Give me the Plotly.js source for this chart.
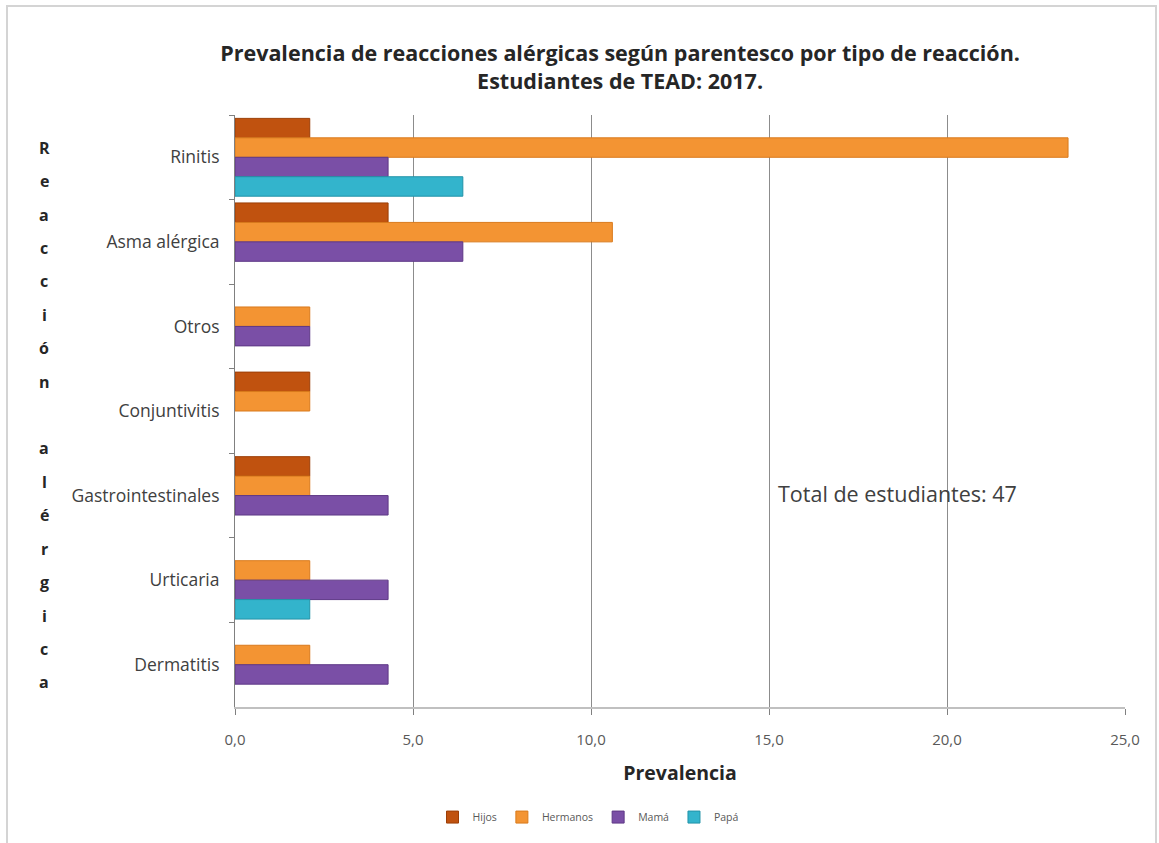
<!DOCTYPE html>
<html>
<head>
<meta charset="utf-8">
<script src="https://cdn.plot.ly/plotly-3.0.1.min.js"></script>
<style>
  html, body { margin: 0; padding: 0; background: #ffffff; }
  #chart { width: 1159px; height: 843px; position: relative; }
  #frame { position: absolute; left: 6px; top: 5px; width: 1151px; height: 850px;
           border: 2px solid #d4d4d4; pointer-events: none; box-sizing: border-box; }
</style>
</head>
<body>
<div id="chart"></div>
<div id="frame"></div>
<script>
// ---- data ----
const categories = ['Rinitis', 'Asma alérgica', 'Otros', 'Conjuntivitis', 'Gastrointestinales', 'Urticaria', 'Dermatitis'];
const seriesNames = ['Hijos', 'Hermanos', 'Mamá', 'Papá'];
const hijos    = [2.1, 4.3, null, 2.1, 2.1, null, null];
const hermanos = [23.4, 10.6, 2.1, 2.1, 2.1, 2.1, 2.1];
const mama     = [4.3, 6.4, 2.1, null, 4.3, 4.3, 4.3];
const papa     = [6.4, null, null, null, null, 2.1, null];
const xTicks   = [0, 5, 10, 15, 20, 25];
const titleLines = ['Prevalencia de reacciones alérgicas según parentesco por tipo de reacción.', 'Estudiantes de TEAD: 2017.'];
const yTitleText = 'Reacción alérgica';
const noteText = 'Total de estudiantes: 47';

// ---- styles ----
const colors = ['#c0520f', '#f39433', '#7a4fa6', '#33b4cc'];
const lines  = ['#9c3e06', '#d97a1c', '#5e3886', '#2293a8'];
const values = [hijos, hermanos, mama, papa];

const W = 1159, H = 843;
const M = { l: 235, r: 34, t: 115, b: 131 };
const pw = W - M.l - M.r, ph = H - M.t - M.b;
const px2x = p => (p - M.l) / pw;
const py2y = p => 1 - (p - M.t) / ph;

const traces = seriesNames.map((name, i) => ({
  type: 'bar',
  orientation: 'h',
  name: name,
  y: categories,
  x: values[i],
  marker: { color: colors[i], line: { color: lines[i], width: 1 } },
  hoverinfo: 'x+name'
}));

const FONT = '"Open Sans", Lato, "DejaVu Sans", sans-serif';

// stacked vertical letters for the y-axis title
const letters = Array.from(yTitleText);
const annotations = letters.map((ch, k) => ({
  text: ch === ' ' ? '' : '<b>' + ch + '</b>',
  xref: 'paper', yref: 'paper',
  x: px2x(44), y: py2y(148 + k * 33.7),
  xanchor: 'center', yanchor: 'middle',
  showarrow: false,
  font: { family: FONT, size: 16, color: '#262626' }
})).filter(a => a.text !== '');

annotations.push({
  text: noteText,
  xref: 'x', yref: 'paper',
  x: 15.2, y: py2y(497),
  xanchor: 'left', yanchor: 'middle',
  showarrow: false,
  font: { family: FONT, size: 21.5, color: '#404040' }
});

const layout = {
  width: W, height: H,
  margin: M,
  paper_bgcolor: 'rgba(0,0,0,0)',
  plot_bgcolor: '#ffffff',
  font: { family: FONT, color: '#404040' },
  barmode: 'group',
  bargap: 0.08,
  bargroupgap: 0,
  title: {
    text: '<b>' + titleLines.join('<br>') + '</b>',
    x: 0.535, xanchor: 'center',
    y: 1 - 61 / H, yanchor: 'middle',
    font: { family: FONT, size: 21.5, color: '#262626' }
  },
  xaxis: {
    range: [0, 25],
    tickvals: xTicks,
    tickformat: '.1f',
    showgrid: true, gridcolor: '#8c8c8c', gridwidth: 1,
    zeroline: false,
    showline: true, linecolor: '#c0c0c0', linewidth: 2,
    ticks: 'outside', ticklen: 6, tickcolor: '#808080',
    tickfont: { family: FONT, size: 15, color: '#595959' },
    ticklabelstandoff: 12,
    title: { text: '<b>Prevalencia</b>', font: { family: FONT, size: 19.5, color: '#262626' }, standoff: 18 },
    fixedrange: true
  },
  yaxis: {
    type: 'category',
    categoryorder: 'array', categoryarray: categories,
    autorange: 'reversed',
    showline: true, linecolor: '#808080', linewidth: 1,
    ticks: 'outside', tickson: 'boundaries', ticklen: 5, tickcolor: '#808080',
    showgrid: false,
    tickfont: { family: FONT, size: 17.5, color: '#404040' },
    ticklabelstandoff: 11,
    fixedrange: true
  },
  separators: ',.',
  legend: {
    orientation: 'h',
    x: px2x(588), xanchor: 'center',
    y: py2y(823), yanchor: 'middle',
    font: { family: FONT, size: 10.5, color: '#595959' },
    itemwidth: 30,
    tracegroupgap: 0
  },
  annotations: annotations,
  showlegend: true
};

Plotly.newPlot('chart', traces, layout, { displayModeBar: false, staticPlot: false });
</script>
</body>
</html>
